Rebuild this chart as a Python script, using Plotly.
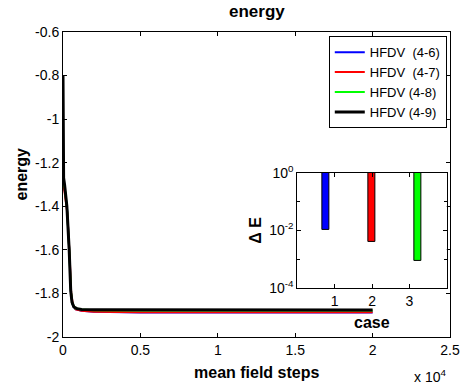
import plotly.graph_objects as go

# ---- main curves (mean field steps vs energy) ----
steps_46 = [0, 60, 150, 270, 420, 520, 620, 800, 1200, 2000, 5000, 10000, 20000]
energy_46 = [-1.30, -1.31, -1.34, -1.42, -1.62, -1.80, -1.850, -1.872, -1.880, -1.884, -1.887, -1.887, -1.887]

steps_47 = [0, 70, 160, 280, 430, 530, 640, 820, 1200, 2000, 5000, 10000, 20000]
energy_47 = [-1.28, -1.32, -1.35, -1.43, -1.63, -1.80, -1.852, -1.873, -1.880, -1.884, -1.886, -1.886, -1.886]

steps_48 = [0, 50, 140, 260, 410, 510, 610, 790, 1200, 2000, 5000, 10000, 20000]
energy_48 = [-1.28, -1.29, -1.33, -1.41, -1.61, -1.79, -1.848, -1.868, -1.874, -1.877, -1.878, -1.878, -1.878]

steps_49 = [0, 20, 40, 100, 250, 400, 500, 580, 700, 900, 1200, 2000, 5000, 10000, 20000]
energy_49 = [-0.80, -1.08, -1.27, -1.30, -1.40, -1.60, -1.79, -1.84, -1.862, -1.870, -1.874, -1.875, -1.875, -1.876, -1.876]

series_names = ["HFDV\u00a0\u00a0(4-6)", "HFDV\u00a0\u00a0(4-7)", "HFDV (4-8)", "HFDV (4-9)"]
series_colors = ["#0000ff", "#ff0000", "#00ff00", "#000000"]

# ---- inset bars (case vs Delta E) ----
case_pos = [0.77, 2.0, 3.23]
delta_e = [0.0100, 0.0038, 0.00083]
case_colors = ["#0000ff", "#ff0000", "#00ff00"]

main_xticks = [0, 5000, 10000, 15000, 20000, 25000]
main_xtext = ["0", "0.5", "1", "1.5", "2", "2.5"]
main_yticks = [-2, -1.8, -1.6, -1.4, -1.2, -1, -0.8, -0.6]
main_ytext = ["-2", "-1.8", "-1.6", "-1.4", "-1.2", "-1", "-0.8", "-0.6"]
inset_yticks = [1, 0.01, 0.0001]
inset_ytext = ["10<sup>0</sup>", "10<sup>-2</sup>", "10<sup>-4</sup>"]

FONT = "Arial, Liberation Sans, sans-serif"

fig = go.Figure()
all_x = [steps_46, steps_47, steps_48, steps_49]
all_y = [energy_46, energy_47, energy_48, energy_49]
widths = [2, 2, 2, 3]
for xs, ys, nm, c, w in zip(all_x, all_y, series_names, series_colors, widths):
    fig.add_trace(go.Scatter(x=xs, y=ys, mode="lines", name=nm,
                             line=dict(color=c, width=w), xaxis="x", yaxis="y"))

fig.add_trace(go.Bar(x=case_pos, base=delta_e, y=[1 - v for v in delta_e],
                     width=0.18, marker=dict(color=case_colors, line=dict(color="black", width=1)),
                     showlegend=False, xaxis="x2", yaxis="y2"))

axis_common = dict(showline=True, linecolor="black", linewidth=1, mirror="ticks",
                   ticks="inside", ticklen=4, tickcolor="black", showgrid=False,
                   zeroline=False, tickfont=dict(family=FONT, size=14, color="black"))

fig.update_layout(
    width=470, height=387,
    margin=dict(l=63, r=10, t=32, b=50),
    paper_bgcolor="white", plot_bgcolor="white",
    font=dict(family=FONT, size=14, color="black"),
    showlegend=True,
    legend=dict(x=0.9917, y=0.986, xanchor="right", yanchor="top",
                bgcolor="white", bordercolor="black", borderwidth=1,
                font=dict(family=FONT, size=13, color="black"),
                itemwidth=30, tracegroupgap=0),
    xaxis=dict(domain=[0, 1], range=[0, 25000], tickvals=main_xticks,
               ticktext=main_xtext, **axis_common),
    yaxis=dict(domain=[0, 1], range=[-2, -0.6], tickvals=main_yticks,
               ticktext=main_ytext, **axis_common),
    xaxis2=dict(domain=[0.6056, 0.9917], anchor="y2", range=[0, 4], tickvals=[1, 2, 3],
                **axis_common),
    yaxis2=dict(domain=[0.1615, 0.538], anchor="x2", type="log", range=[-4, 0],
                tickvals=inset_yticks, ticktext=inset_ytext,
                minor=dict(tickvals=[0.1, 0.001], ticks="inside", ticklen=3, tickcolor="black"),
                **axis_common),
    bargap=0,
)

fig.add_annotation(text="<b>energy</b>", xref="paper", yref="paper", x=0.5, y=1.0,
                   yanchor="middle", yshift=21, showarrow=False, font=dict(family=FONT, size=17))
fig.add_annotation(text="<b>mean field steps</b>", xref="paper", yref="paper", x=0.5, y=0,
                   yanchor="middle", yshift=-35, showarrow=False, font=dict(family=FONT, size=16))
fig.add_annotation(text="x 10<sup>4</sup>", xref="paper", yref="paper", x=1.0, y=0,
                   xanchor="right", yanchor="middle", xshift=-2, yshift=-39, showarrow=False,
                   font=dict(family=FONT, size=14))
fig.add_annotation(text="<b>energy</b>", xref="paper", yref="paper", x=0, y=0.5,
                   xanchor="center", yanchor="middle", xshift=-42, yshift=10, showarrow=False,
                   textangle=-90, font=dict(family=FONT, size=16))
fig.add_annotation(text="<b>case</b>", xref="x2 domain", yref="y2 domain", x=0.5, y=0,
                   yanchor="middle", yshift=-35, showarrow=False, font=dict(family=FONT, size=16))
fig.add_annotation(text="<b>\u0394 E</b>", xref="x2 domain", yref="y2 domain", x=0, y=0.5,
                   xanchor="center", yanchor="middle", xshift=-42, showarrow=False,
                   textangle=-90, font=dict(family=FONT, size=16))

fig.write_html("out.html")
